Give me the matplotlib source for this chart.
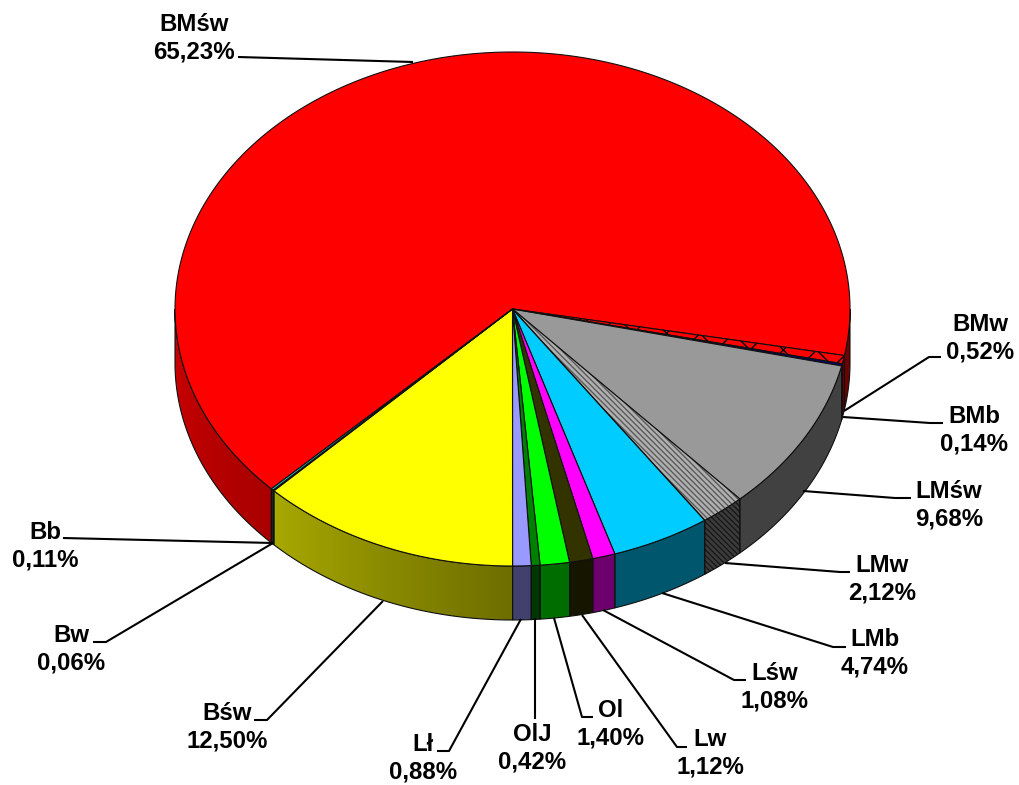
import numpy as np
import matplotlib
matplotlib.use("Agg")
import matplotlib.pyplot as plt
from matplotlib.patches import Polygon

plt.rcParams['font.family'] = ['Liberation Sans', 'DejaVu Sans']
plt.rcParams['hatch.linewidth'] = 1.0

# dane
names = ["BMśw", "BMw", "BMb", "LMśw", "LMw", "LMb", "Lśw", "Lw", "Ol", "OlJ", "Lł", "Bśw", "Bw", "Bb"]
shares = [65.23, 0.52, 0.14, 9.68, 2.12, 4.74, 1.08, 1.12, 1.40, 0.42, 0.88, 12.50, 0.06, 0.11]
colors = ["#FF0000", "#FF0000", "#000080", "#999999", "#8C8C8C", "#00CCFF", "#FF00FF", "#333300",
          "#00FF00", "#008000", "#9999FF", "#FFFF00", "#008080", "#33CCCC"]
hatches = [None, "x", None, None, "\\\\\\\\\\\\", None, None, None, None, None, None, None, None, None]

label_x = [194, 980, 974, 949, 882, 875, 775, 710, 611, 532, 423, 227, 71, 45]
label_y = [38, 338, 430.5, 505.5, 579.5, 653.5, 687.5, 753.5, 724.5, 748.5, 758.5, 727.5, 649.5, 546]

leaders = [
    [(238, 57), (413, 62)],
    [(941, 357), (929, 357), (844, 411)],
    [(943, 423), (930, 423), (843, 417)],
    [(911, 498), (895, 498), (803, 491)],
    [(850, 572), (840, 572), (725, 563)],
    [(846, 647), (833, 647), (662, 593)],
    [(746, 680), (734, 680), (603, 610)],
    [(687, 747), (677, 747), (582, 615)],
    [(593, 717), (582, 717), (554, 618)],
    [(535, 719), (535, 618)],
    [(437, 751), (449, 751), (521, 619)],
    [(254, 720), (267, 720), (383, 601)],
    [(93, 642), (106, 642), (273, 543)],
    [(63, 538), (273, 543)],
]

# geometria "3D" tortu
cx, cy = 512.5, 309
rx, ry = 337.5, 257
depth = 54
start_angle = 224.4


def ell(a):
    a = np.radians(a)
    return cx + rx * np.cos(a), cy - ry * np.sin(a)


def rim_shade(a):
    return np.interp(np.asarray(a) % 360, [180, 225, 270, 360], [0.8, 0.66, 0.43, 0.43])


def rim_ranges(a0, a1):
    # a0 > a1, zwraca widoczne kawalki boku (przod tortu)
    out = []
    for lo, hi in [(-180, 0), (180, 360)]:
        l, h = max(a1, lo), min(a0, hi)
        if h > l:
            out.append((l, h))
    return out


fig = plt.figure(figsize=(10.2, 7.85), dpi=100)
ax = fig.add_axes([0, 0, 1, 1])

edges = np.cumsum([0] + shares) * 3.6
angles = start_angle - edges

# boki - gradient przyciety do ksztaltu
for i in range(len(shares)):
    base = np.array(matplotlib.colors.to_rgb(colors[i]))
    for lo, hi in rim_ranges(angles[i], angles[i + 1]):
        t = np.linspace(lo, hi, 80)
        xs, ys = ell(t)
        rim_pts = np.r_[np.c_[xs, ys], np.c_[xs, ys + depth][::-1]]
        # kolor w kolumnach wg x
        grid = np.linspace(xs.min(), xs.max(), 200)
        order = np.argsort(xs)
        shade = np.interp(grid, xs[order], rim_shade(t)[order])
        img = (base[None, None, :] * shade[None, :, None])
        clip = Polygon(rim_pts, transform=ax.transData, facecolor="none", edgecolor="none")
        ax.add_patch(clip)
        im = ax.imshow(img, extent=(xs.min(), xs.max(), ys.max() + depth, ys.min()),
                       aspect="auto", interpolation="bilinear", zorder=2)
        im.set_clip_path(clip)
        if hatches[i] is not None and hatches[i] != "x":
            ax.add_patch(Polygon(rim_pts, facecolor="none", edgecolor="#181818",
                                 hatch=hatches[i], lw=0, zorder=3))
        ax.add_patch(Polygon(rim_pts, facecolor="none", edgecolor="#101010", lw=0.8, zorder=4))

# wierzch
for i in range(len(shares)):
    t = np.linspace(angles[i], angles[i + 1], max(3, int(abs(angles[i] - angles[i + 1]) * 3)))
    xs, ys = ell(t)
    pts = np.r_[[(cx, cy)], np.c_[xs, ys]]
    if hatches[i] is None:
        ax.add_patch(Polygon(pts, facecolor=colors[i], edgecolor="#101010", lw=0.8, zorder=5))
    else:
        hcol = "#000000" if hatches[i] == "x" else "#5A5A5A"
        bg = colors[i] if hatches[i] == "x" else "#B0B0B0"
        ax.add_patch(Polygon(pts, facecolor=bg, edgecolor=hcol, hatch=hatches[i], lw=0, zorder=5))
        ax.add_patch(Polygon(pts, facecolor="none", edgecolor="#101010", lw=0.8, zorder=6))

# opisy
for i in range(len(names)):
    txt = names[i] + "\n" + f"{shares[i]:.2f}".replace(".", ",") + "%"
    ax.text(label_x[i], label_y[i], txt, ha="center", va="center", fontsize=17.3,
            fontweight="bold", color="black", linespacing=1.27, zorder=8)
    xs, ys = zip(*leaders[i])
    ax.plot(xs, ys, color="black", lw=1.5, solid_capstyle="butt", zorder=7)

ax.set_xlim(0, 1020)
ax.set_ylim(785, 0)
ax.axis("off")

fig.savefig("out.png", dpi=100)
